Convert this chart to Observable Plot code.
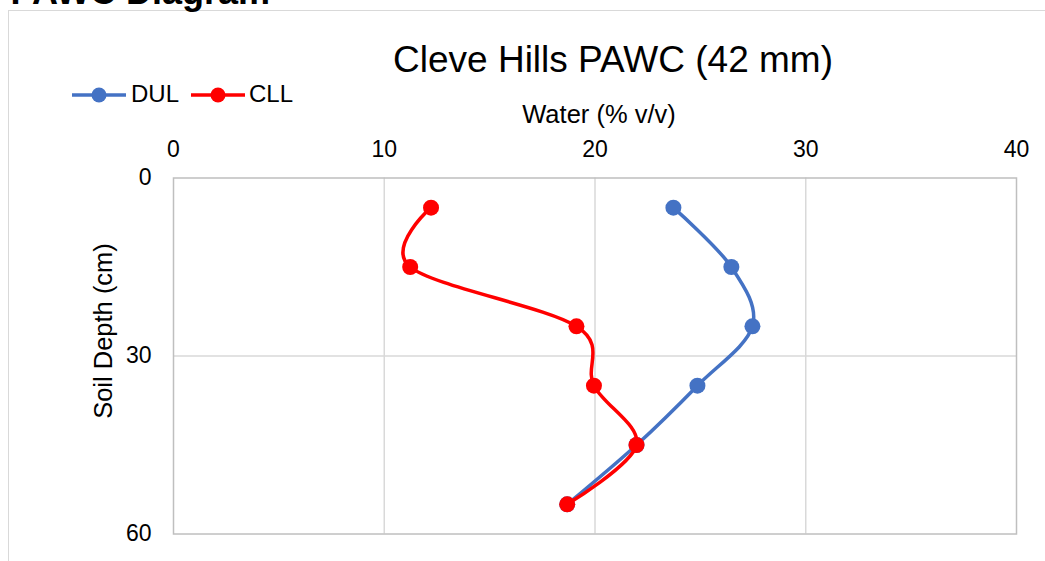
<!DOCTYPE html>
<html>
<head>
<meta charset="utf-8">
<script src="https://cdn.jsdelivr.net/npm/d3@7"></script>
<script src="https://cdn.jsdelivr.net/npm/@observablehq/plot@0.6"></script>
<style>
  html, body { margin: 0; padding: 0; background: #fff; }
  #wrap { position: relative; width: 1045px; height: 561px; overflow: hidden; background: #fff; }
  #border { position: absolute; left: 8px; top: 10px; width: 1100px; height: 600px;
            border-left: 1.5px solid #d9d9d9; border-top: 1.5px solid #d9d9d9; }
  #chart { position: absolute; left: 0; top: 0; }
</style>
</head>
<body>
<div id="wrap"><div id="border"></div><div id="chart"></div></div>
<script>
// ---- data ----
const depths = [5, 15, 25, 35, 45, 55];
const dulValues = [23.72, 26.47, 27.47, 24.86, 21.97, 18.68];
const cllValues = [12.22, 11.23, 19.12, 19.95, 21.97, 18.68];
const xTicks = [0, 10, 20, 30, 40];
const yTicks = [0, 30, 60];
const seriesNames = ["DUL", "CLL"];
const seriesColors = ["#4472C4", "#FF0000"];
const chartTitle = "Cleve Hills PAWC (42 mm)";
const xLabel = "Water (% v/v)";
const yLabel = "Soil Depth (cm)";
const sectionTitle = "PAWC Diagram";

const dul = depths.map((d, i) => ({depth: d, water: dulValues[i]}));
const cll = depths.map((d, i) => ({depth: d, water: cllValues[i]}));

const font = "'Liberation Sans', Arial, Helvetica, sans-serif";

const svg = Plot.plot({
  width: 1045,
  height: 561,
  marginLeft: 173,
  marginRight: 29,
  marginTop: 177.5,
  marginBottom: 27.5,
  style: {fontFamily: font, fontSize: "23px", color: "#000", background: "transparent", overflow: "visible"},
  x: {domain: [0, 40]},
  y: {domain: [0, 60], reverse: true},
  marks: [
    Plot.gridX([10, 20, 30], {stroke: "#d9d9d9", strokeOpacity: 1, strokeWidth: 1.5}),
    Plot.gridY([30], {stroke: "#d9d9d9", strokeOpacity: 1, strokeWidth: 1.5}),
    Plot.frame({stroke: "#bfbfbf", strokeWidth: 1.5}),
    Plot.axisX({anchor: "top", ticks: xTicks, tickSize: 0, tickPadding: 21, label: null, fontSize: 23, tickFormat: d => String(d)}),
    Plot.axisY({anchor: "left", ticks: yTicks, tickSize: 0, tickPadding: 22, label: null, fontSize: 23, tickFormat: d => String(d)}),
    Plot.line(dul, {x: "water", y: "depth", stroke: seriesColors[0], strokeWidth: 3.5, curve: "cardinal", tension: 0}),
    Plot.dot(dul, {x: "water", y: "depth", r: 8, fill: seriesColors[0]}),
    Plot.line(cll, {x: "water", y: "depth", stroke: seriesColors[1], strokeWidth: 3.5, curve: "cardinal", tension: 0}),
    Plot.dot(cll, {x: "water", y: "depth", r: 8, fill: seriesColors[1]})
  ]
});
document.getElementById("chart").appendChild(svg);

// ---- titles, labels, legend ----
const s = d3.select(svg);
const add = (txt, x, y, size, opts = {}) => {
  const t = s.append("text").attr("x", x).attr("y", y)
    .attr("font-family", font).attr("font-size", size).attr("fill", "#000")
    .attr("text-anchor", opts.anchor || "start").text(txt);
  if (opts.bold) t.attr("font-weight", "bold");
  if (opts.transform) t.attr("transform", opts.transform);
  return t;
};
add(sectionTitle, 270, 4, 36, {anchor: "end", bold: true});
add(chartTitle, 613, 72, 37, {anchor: "middle"});
add(xLabel, 599, 123, 25.5, {anchor: "middle"});
add(yLabel, 0, 0, 25.5, {anchor: "middle", transform: "translate(112,331) rotate(-90)"});

const legend = [{x0: 72, x1: 126, tx: 131}, {x0: 191, x1: 245, tx: 249}];
legend.forEach((l, i) => {
  s.append("line").attr("x1", l.x0).attr("x2", l.x1).attr("y1", 95).attr("y2", 95)
    .attr("stroke", seriesColors[i]).attr("stroke-width", 3.5);
  s.append("circle").attr("cx", (l.x0 + l.x1) / 2).attr("cy", 95).attr("r", 7.5).attr("fill", seriesColors[i]);
  add(seriesNames[i], l.tx, 102, 24);
});
</script>
</body>
</html>
